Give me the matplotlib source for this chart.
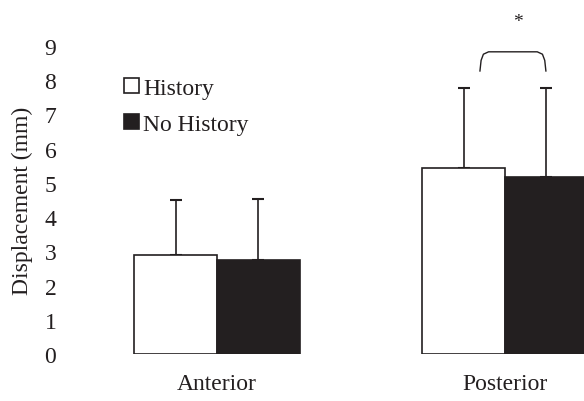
import numpy as np
import matplotlib
matplotlib.use("Agg")
import matplotlib.pyplot as plt

# data
regions = ["Anterior", "Posterior"]
history = [2.89, 5.43]
history_sd = [1.61, 2.35]
no_history = [2.75, 5.16]
no_history_sd = [1.78, 2.61]

plt.rcParams['font.family'] = ['Liberation Serif', 'DejaVu Serif']
dark = '#231f20'
fs = 17

fig = plt.figure(figsize=(5.84, 4.02), dpi=100)
ax = fig.add_axes([73/584., 47/402., 1 - 73/584., 308/402.])

x = np.arange(len(regions))
w = 0.288
ax.bar(x - w/2, history, w, color='white', edgecolor=dark, linewidth=1.2,
       label='History', zorder=2)
ax.bar(x + w/2, no_history, w, color=dark, edgecolor=dark, linewidth=1.2,
       label='No History', zorder=2)
ax.errorbar(x - w/2, history, yerr=[np.zeros(2), history_sd], fmt='none',
            ecolor=dark, elinewidth=1.2, capsize=4, capthick=1.5, zorder=1)
ax.errorbar(x + w/2, no_history, yerr=[np.zeros(2), no_history_sd], fmt='none',
            ecolor=dark, elinewidth=1.2, capsize=4, capthick=1.5, zorder=1)

# significance bracket
bx0, bx1 = 0.913, 1.142
by0, by1 = 8.27, 8.83
ax.plot([bx0, bx0 + 0.004, bx0 + 0.012, bx0 + 0.03, bx1 - 0.03, bx1 - 0.012, bx1 - 0.004, bx1],
        [by0, by1 - 0.25, by1 - 0.07, by1, by1, by1 - 0.07, by1 - 0.25, by0],
        color=dark, lw=1.0, clip_on=False)
ax.text(1.045, 9.72, '*', ha='center', va='center', fontsize=14, color=dark,
        clip_on=False)

ax.set_xlim(-0.5, (584 - 217) / 288.)
ax.set_ylim(0, 9)
ax.set_yticks(range(0, 10))
ax.set_xticks(x)
ax.set_xticklabels(regions)
ax.tick_params(length=0, labelsize=fs, colors=dark, pad=12)
ax.tick_params(axis='x', pad=14)
for s in ax.spines.values():
    s.set_visible(False)
ax.set_ylabel('Displacement (mm)', fontsize=fs, color=dark, labelpad=8)

leg = ax.legend(loc='upper left', bbox_to_anchor=(0.076, 0.935), frameon=False,
                fontsize=fs, handlelength=0.64, handleheight=0.64,
                handletextpad=0.2, labelspacing=0.62, borderpad=0)
for t in leg.get_texts():
    t.set_color(dark)

fig.savefig('out.png', dpi=100)
